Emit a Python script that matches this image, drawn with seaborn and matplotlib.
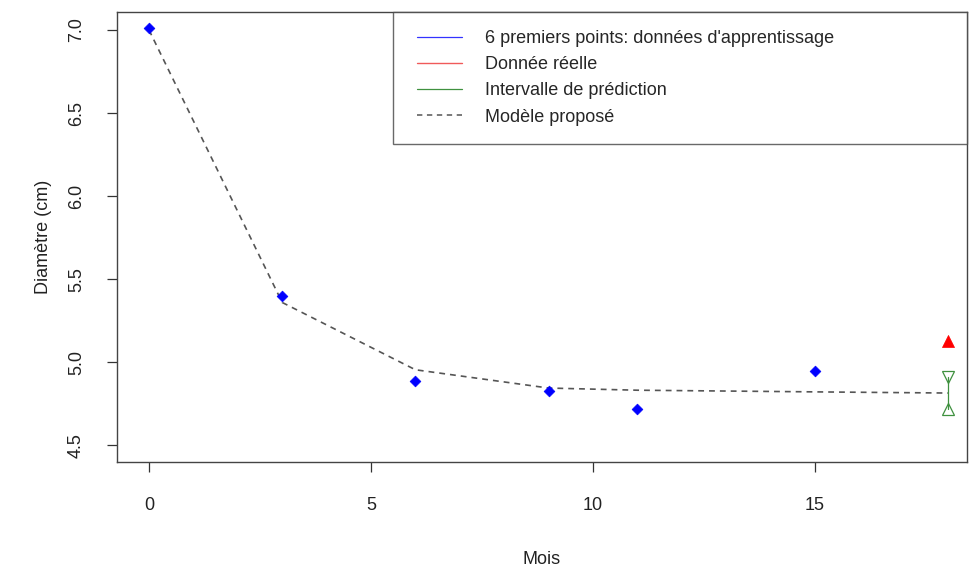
import numpy as np
import pandas as pd
import matplotlib
matplotlib.use('Agg')
import matplotlib.pyplot as plt
import seaborn as sns
from matplotlib.lines import Line2D
from matplotlib.legend_handler import HandlerLine2D

# ---------------------------------------------------------------------------
# Data
# ---------------------------------------------------------------------------
mois_train = [0, 3, 6, 9, 11, 15]
diam_train = [7.01, 5.40, 4.89, 4.83, 4.72, 4.95]

mois_reel = [18]
diam_reel = [5.13]

mois_modele = [0, 3, 6, 9, 11, 15, 18]
diam_modele = [7.00, 5.36, 4.955, 4.845, 4.832, 4.822, 4.815]

mois_pred = 18
pred_bas = 4.72
pred_haut = 4.91

legend_labels = ["6 premiers points: données d'apprentissage",
                 "Donnée réelle",
                 "Intervalle de prédiction",
                 "Modèle proposé"]

df_train = pd.DataFrame({'mois': mois_train, 'diam': diam_train})
df_modele = pd.DataFrame({'mois': mois_modele, 'diam': diam_modele})

# ---------------------------------------------------------------------------
# Style
# ---------------------------------------------------------------------------
sns.set_theme(style="white")
plt.rcParams['font.family'] = ['Liberation Sans', 'DejaVu Sans']
FS = 13
GREEN = '#3f913f'
GREY = '#555555'

fig = plt.figure(figsize=(9.7, 5.67), dpi=100)
ax = fig.add_axes([117 / 970, 1 - 462 / 567, 850 / 970, 450 / 567])

# model (dashed)
sns.lineplot(data=df_modele, x='mois', y='diam', ax=ax, color=GREY,
             linestyle=(0, (3.5, 3)), linewidth=1.2, estimator=None, sort=False)

# training points
sns.scatterplot(data=df_train, x='mois', y='diam', ax=ax, marker='D', s=30,
                color='blue', edgecolor='blue', linewidth=0.5, zorder=3)

# real value
sns.scatterplot(x=mois_reel, y=diam_reel, ax=ax, marker='^', s=75,
                color='red', edgecolor='red', linewidth=0.5, zorder=3)

# prediction interval
ax.plot([mois_pred, mois_pred], [pred_bas, pred_haut], color=GREEN, lw=0.9)
ax.plot([mois_pred], [pred_haut], marker='v', ms=9, mfc='none', mec=GREEN, mew=0.9, ls='')
ax.plot([mois_pred], [pred_bas], marker='^', ms=9, mfc='none', mec=GREEN, mew=0.9, ls='')

# axes
ax.set_xlim(-0.72, 18.42)
ax.set_ylim(4.40, 7.108)
ax.set_xticks([0, 5, 10, 15])
ax.set_yticks([4.5, 5.0, 5.5, 6.0, 6.5, 7.0])
ax.set_xticklabels(['0', '5', '10', '15'])
ax.set_yticklabels(['4.5', '5.0', '5.5', '6.0', '6.5', '7.0'], rotation=90, va='center')
ax.tick_params(axis='both', direction='out', length=7, width=0.9, color='#333333',
               labelsize=FS, labelcolor='#222222')
ax.tick_params(axis='x', pad=18, bottom=True)
ax.tick_params(axis='y', pad=16, left=True)
for sp in ax.spines.values():
    sp.set_color('#444444')
    sp.set_linewidth(1.0)

ax.set_xlabel('Mois', fontsize=FS, color='#222222')
ax.set_ylabel('Diamètre (cm)', fontsize=FS, color='#222222')
ax.xaxis.set_label_coords(0.5, -(559 - 462) / 450)
ax.xaxis.label.set_va('center')
ax.yaxis.set_label_coords(-(117 - 43) / 850, 0.5)
ax.yaxis.label.set_va('center')

# legend (lines only, R style)
handles = [Line2D([], [], color='#3333ff', lw=0.9),
           Line2D([], [], color='#f05a5a', lw=1.0),
           Line2D([], [], color=GREEN, lw=0.9),
           Line2D([], [], color=GREY, lw=1.1, linestyle=(0, (3.5, 3)))]
x0 = (393 - 117) / 850
leg = ax.legend(handles, legend_labels, loc='upper left',
                bbox_to_anchor=(x0, 0, 1 - x0, 1.0), mode='expand',
                borderaxespad=0, fontsize=FS, frameon=True, fancybox=False,
                handlelength=2.82, handletextpad=1.27, borderpad=1.0,
                labelspacing=0.51,
                handler_map={Line2D: HandlerLine2D(xpad=0.33)})
leg.get_frame().set_edgecolor('#444444')
leg.get_frame().set_linewidth(1.0)

fig.savefig('out.png', dpi=100)
plt.close(fig)
